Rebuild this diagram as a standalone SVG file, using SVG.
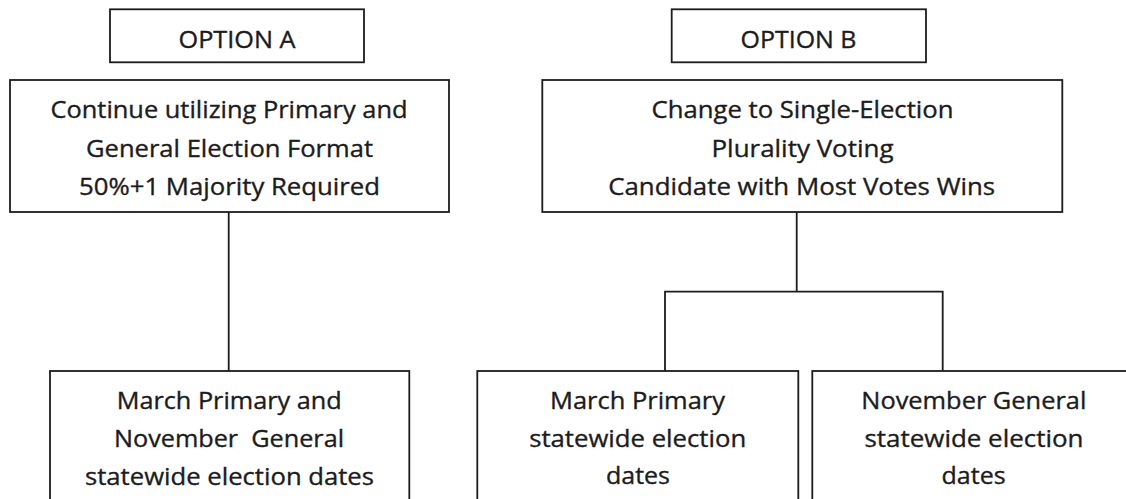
<svg xmlns="http://www.w3.org/2000/svg" width="1126" height="499" viewBox="0 0 1126 499">
<style>
.box{fill:#fff;stroke:#1c1c1c;stroke-width:1.8}
.ln{fill:none;stroke:#1c1c1c;stroke-width:1.8}
text{font-family:"Open Sans","DejaVu Sans",sans-serif;font-size:24px;fill:#1c1c1c;stroke:#1c1c1c;stroke-width:0.35;text-anchor:middle}
</style>
<rect width="1126" height="499" fill="#fff"/>
<g id="connectors">
<line class="ln" x1="228.7" y1="212" x2="228.7" y2="371"/>
<line class="ln" x1="796.7" y1="212" x2="796.7" y2="291.7"/>
<polyline class="ln" points="665,371 665,291.7 942.7,291.7 942.7,371"/>
</g>
<g id="optionA">
<rect class="box" x="110" y="9.3" width="254" height="53"/>
<text x="237" y="47.7" textLength="117" lengthAdjust="spacingAndGlyphs">OPTION A</text>
</g>
<g id="optionB">
<rect class="box" x="671.7" y="9.3" width="254.3" height="53"/>
<text x="798.5" y="47.7" textLength="116" lengthAdjust="spacingAndGlyphs">OPTION B</text>
</g>
<g id="continueFormat">
<rect class="box" x="10" y="80" width="439" height="132"/>
<text x="229" y="118.3" textLength="357" lengthAdjust="spacingAndGlyphs">Continue utilizing Primary and</text>
<text x="229.5" y="156.7" textLength="287" lengthAdjust="spacingAndGlyphs">General Election Format</text>
<text x="229.5" y="195" textLength="301" lengthAdjust="spacingAndGlyphs">50%+1 Majority Required</text>
</g>
<g id="singleElection">
<rect class="box" x="542.3" y="80" width="520" height="132"/>
<text x="802.5" y="118.3" textLength="302" lengthAdjust="spacingAndGlyphs">Change to Single-Election</text>
<text x="802.5" y="156.7" textLength="182" lengthAdjust="spacingAndGlyphs">Plurality Voting</text>
<text x="801.7" y="195" textLength="387" lengthAdjust="spacingAndGlyphs">Candidate with Most Votes Wins</text>
</g>
<g id="datesA">
<rect class="box" x="50" y="371" width="359.3" height="140"/>
<text x="229.2" y="409.3" textLength="225" lengthAdjust="spacingAndGlyphs">March Primary and</text>
<text x="229" y="447.3" textLength="230" lengthAdjust="spacingAndGlyphs" xml:space="preserve">November  General</text>
<text x="229.5" y="485" textLength="289" lengthAdjust="spacingAndGlyphs">statewide election dates</text>
</g>
<g id="datesB1">
<rect class="box" x="477.3" y="371" width="321" height="140"/>
<text x="637.5" y="409.3" textLength="175" lengthAdjust="spacingAndGlyphs">March Primary</text>
<text x="637.7" y="447.3" textLength="217" lengthAdjust="spacingAndGlyphs">statewide election</text>
<text x="638" y="484" textLength="64" lengthAdjust="spacingAndGlyphs">dates</text>
</g>
<g id="datesB2">
<rect class="box" x="812.3" y="371" width="323.4" height="140"/>
<text x="973.8" y="409.3" textLength="225" lengthAdjust="spacingAndGlyphs">November General</text>
<text x="974" y="447.3" textLength="219" lengthAdjust="spacingAndGlyphs">statewide election</text>
<text x="973.6" y="484" textLength="64" lengthAdjust="spacingAndGlyphs">dates</text>
</g>
</svg>
